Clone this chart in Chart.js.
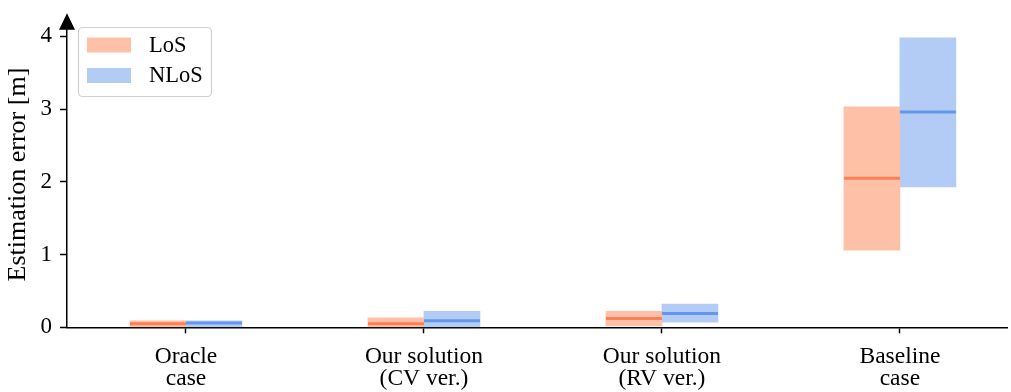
<!DOCTYPE html>
<html>
<head>
<meta charset="utf-8">
<script src="https://cdn.jsdelivr.net/npm/chart.js@4/dist/chart.umd.min.js"></script>
<style>
  html, body { margin: 0; padding: 0; background: #fff; }
  #wrap { width: 1011px; height: 392px; }
</style>
</head>
<body>
<div id="wrap"><canvas id="c" width="1011" height="392"></canvas></div>
<script>
// Estimation error ranges (min..max) and medians per method, in metres
const categories = [["Oracle", "case"], ["Our solution", "(CV ver.)"], ["Our solution", "(RV ver.)"], ["Baseline", "case"]];
const seriesNames = ["LoS", "NLoS"];
const losLow = [0.0, 0.0, 0.02, 1.06];
const losHigh = [0.09, 0.13, 0.22, 3.03];
const losMedian = [0.05, 0.05, 0.12, 2.05];
const nlosLow = [0.0, 0.0, 0.07, 1.93];
const nlosHigh = [0.09, 0.22, 0.32, 3.98];
const nlosMedian = [0.06, 0.09, 0.19, 2.96];
const yTicks = [0, 1, 2, 3, 4];

const FONT = "'Liberation Serif', 'Times New Roman', serif";
const fills = ["rgb(255,192,168)", "rgb(178,204,245)"];
const medianColors = ["rgb(252,128,84)", "rgb(100,150,236)"];
const medians = [losMedian, nlosMedian];

const toPoints = (lo, hi) => lo.map((v, i) => ({ x: i, y: [v, hi[i]] }));

// Median bars drawn across each range bar, plus the arrow head on the y axis and the legend box
const overlay = {
  id: "overlay",
  afterDatasetsDraw(chart) {
    const { ctx, scales: { y } } = chart;
    ctx.save();
    chart.data.datasets.forEach((ds, di) => {
      const meta = chart.getDatasetMeta(di);
      meta.data.forEach((bar, i) => {
        const py = y.getPixelForValue(medians[di][i]);
        ctx.strokeStyle = medianColors[di];
        ctx.lineWidth = 3;
        ctx.beginPath();
        ctx.moveTo(bar.x - bar.width / 2, py);
        ctx.lineTo(bar.x + bar.width / 2, py);
        ctx.stroke();
      });
    });
    ctx.restore();
  },
  afterDraw(chart) {
    const { ctx, chartArea } = chart;
    ctx.save();
    // arrow head at the top of the y axis
    const ax = chartArea.left, ay = chartArea.top;
    ctx.fillStyle = "#000";
    ctx.beginPath();
    ctx.moveTo(ax, ay - 8.5);
    ctx.lineTo(ax - 8, ay + 8);
    ctx.lineTo(ax + 8, ay + 8);
    ctx.closePath();
    ctx.fill();

    // legend
    const lx = 78.5, ly = 27.5, lw = 133, lh = 69, r = 4;
    ctx.fillStyle = "rgba(255,255,255,0.8)";
    ctx.strokeStyle = "#d0d0d0";
    ctx.lineWidth = 1.2;
    ctx.beginPath();
    ctx.roundRect(lx, ly, lw, lh, r);
    ctx.fill();
    ctx.stroke();
    const rows = [45, 75.5];
    seriesNames.forEach((name, i) => {
      ctx.fillStyle = fills[i];
      ctx.fillRect(87, rows[i] - 7.5, 44, 15);
      ctx.fillStyle = "#000";
      ctx.font = "22.5px " + FONT;
      ctx.textBaseline = "middle";
      ctx.textAlign = "left";
      ctx.fillText(name, 149, rows[i] + 1);
    });
    ctx.restore();
  }
};

new Chart(document.getElementById("c"), {
  type: "bar",
  data: {
    datasets: [
      { label: seriesNames[0], data: toPoints(losLow, losHigh), backgroundColor: fills[0], borderWidth: 0 },
      { label: seriesNames[1], data: toPoints(nlosLow, nlosHigh), backgroundColor: fills[1], borderWidth: 0 }
    ]
  },
  options: {
    responsive: false,
    animation: false,
    barThickness: 56,
    layout: { padding: { top: 17.5, right: 4, left: 0, bottom: 0 } },
    plugins: { legend: { display: false }, tooltip: { enabled: false } },
    scales: {
      x: {
        type: "linear",
        offset: false,
        min: -0.5,
        max: 3.45,
        afterBuildTicks: (s) => { s.ticks = categories.map((_, i) => ({ value: i })); },
        afterFit: (s) => { s.height = 64.7; },
        grid: { display: true, offset: false, drawOnChartArea: false, tickLength: 6, tickWidth: 1.5, color: "#000" },
        border: { display: true, color: "#000", width: 1.5 },
        ticks: {
          color: "#000",
          font: { family: FONT, size: 23.5, lineHeight: 0.96 },
          padding: 12,
          maxRotation: 0,
          autoSkip: false,
          callback: (v) => categories[v]
        }
      },
      y: {
        min: 0,
        max: 4.2,
        afterBuildTicks: (s) => { s.ticks = yTicks.map(v => ({ value: v })); },
        afterFit: (s) => { s.width = 67; },
        grid: { display: true, drawOnChartArea: false, tickLength: 7, tickWidth: 1.5, color: "#000" },
        border: { display: true, color: "#000", width: 1.5 },
        title: {
          display: true,
          text: "Estimation error [m]",
          color: "#000",
          font: { family: FONT, size: 26 },
          padding: { top: 3, bottom: 0 }
        },
        ticks: {
          color: "#000",
          font: { family: FONT, size: 23 },
          padding: 8,
          callback: (v) => String(v)
        }
      }
    }
  },
  plugins: [overlay]
});
</script>
</body>
</html>
